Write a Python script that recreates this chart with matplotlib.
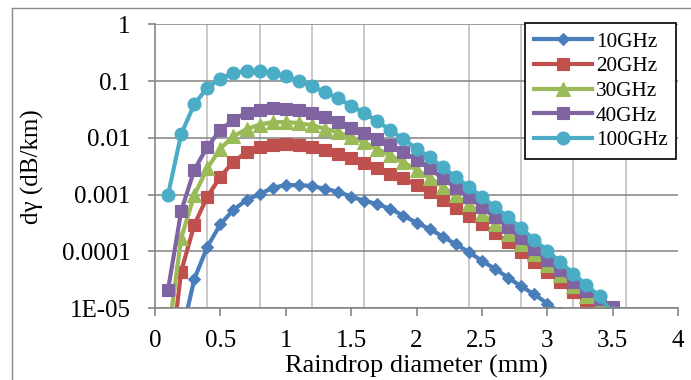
#!/usr/bin/env python
# coding=utf-8
import matplotlib
matplotlib.use('Agg')
import matplotlib.pyplot as plt
from matplotlib.lines import Line2D
from matplotlib.ticker import FixedLocator, FixedFormatter, NullLocator

plt.rcParams['font.family'] = ['Liberation Serif', 'DejaVu Serif']

# raindrop diameter (mm)
diameter = [0.1, 0.2, 0.3, 0.4, 0.5, 0.6, 0.7, 0.8, 0.9, 1.0,
            1.1, 1.2, 1.3, 1.4, 1.5, 1.6, 1.7, 1.8, 1.9, 2.0,
            2.1, 2.2, 2.3, 2.4, 2.5, 2.6, 2.7, 2.8, 2.9, 3.0,
            3.1, 3.2, 3.3, 3.4, 3.5]

# specific attenuation per diameter (dB/km)
g10 = [1e-7, 3e-6, 3.2e-5, 1.2e-4, 3.0e-4, 5.4e-4, 8.0e-4, 1.02e-3, 1.32e-3, 1.47e-3,
       1.47e-3, 1.42e-3, 1.26e-3, 1.12e-3, 9.2e-4, 7.8e-4, 6.8e-4, 5.6e-4, 4.25e-4, 3.2e-4,
       2.48e-4, 1.82e-4, 1.34e-4, 9.7e-5, 6.8e-5, 4.9e-5, 3.45e-5, 2.4e-5, 1.75e-5, 1.2e-5,
       8.2e-6, 5.5e-6, 3.6e-6, 2.4e-6, 1.5e-6]
g20 = [5e-7, 4.4e-5, 2.9e-4, 9.2e-4, 2.06e-3, 3.8e-3, 5.6e-3, 6.9e-3, 7.6e-3, 7.7e-3,
       7.5e-3, 7.0e-3, 6.1e-3, 5.3e-3, 4.4e-3, 3.6e-3, 2.9e-3, 2.35e-3, 1.93e-3, 1.47e-3,
       1.1e-3, 8.0e-4, 5.9e-4, 4.25e-4, 3.0e-4, 2.08e-4, 1.45e-4, 9.8e-5, 6.5e-5, 4.4e-5,
       2.9e-5, 1.9e-5, 1.3e-5, 9.5e-6, 6e-6]
g30 = [3e-6, 1.7e-4, 9.8e-4, 2.9e-3, 6.5e-3, 1.07e-2, 1.42e-2, 1.72e-2, 1.9e-2, 1.9e-2,
       1.83e-2, 1.67e-2, 1.46e-2, 1.25e-2, 1.04e-2, 8.3e-3, 6.4e-3, 4.9e-3, 3.7e-3, 2.75e-3,
       1.98e-3, 1.38e-3, 9.7e-4, 6.7e-4, 4.55e-4, 3.04e-4, 2.06e-4, 1.35e-4, 8.8e-5, 5.8e-5,
       3.8e-5, 2.45e-5, 1.64e-5, 1.2e-5, 7.5e-6]
g40 = [2.1e-5, 5.1e-4, 2.7e-3, 7.0e-3, 1.37e-2, 2.1e-2, 2.75e-2, 3.15e-2, 3.35e-2, 3.3e-2,
       3.05e-2, 2.7e-2, 2.3e-2, 1.88e-2, 1.52e-2, 1.23e-2, 9.7e-3, 7.4e-3, 5.6e-3, 4.1e-3,
       2.9e-3, 1.93e-3, 1.33e-3, 9.0e-4, 6.0e-4, 3.95e-4, 2.64e-4, 1.7e-4, 1.09e-4, 7.1e-5,
       4.6e-5, 2.9e-5, 1.97e-5, 1.45e-5, 1.05e-5]
g100 = [1.0e-3, 1.16e-2, 3.9e-2, 7.7e-2, 1.11e-1, 1.39e-1, 1.53e-1, 1.5e-1, 1.39e-1, 1.22e-1,
        1.0e-1, 8.1e-2, 6.4e-2, 5.0e-2, 3.7e-2, 2.75e-2, 1.97e-2, 1.37e-2, 9.5e-3, 6.5e-3,
        4.55e-3, 3.05e-3, 2.05e-3, 1.37e-3, 9.2e-4, 6.0e-4, 4.0e-4, 2.55e-4, 1.6e-4, 1.02e-4,
        6.5e-5, 4.0e-5, 2.55e-5, 1.6e-5, 8e-6]

labels = ['10GHz', '20GHz', '30GHz', '40GHz', '100GHz']

x_ticks = [0, 0.5, 1, 1.5, 2, 2.5, 3, 3.5, 4]
x_tick_labels = ['0', '0.5', '1', '1.5', '2', '2.5', '3', '3.5', '4']
x_grid = [0.4, 0.8, 1.2, 1.6, 2.0, 2.4, 2.8, 3.2, 3.6]
y_ticks = [1e-5, 1e-4, 1e-3, 1e-2, 1e-1, 1]
y_tick_labels = ['1E-05', '0.0001', '0.001', '0.01', '0.1', '1']

fig = plt.figure(figsize=(6.91, 3.80), dpi=100)
ax = fig.add_axes([155/691, 1-308/380, 523/691, 283.5/380])

styles = [('#4A7EBB', 'D', 6.2),
          ('#C0504D', 's', 8.3),
          ('#9BBB59', '^', 9.5),
          ('#8064A2', 's', 8.3),
          ('#4BACC6', 'o', 9.3)]
for ys, lab, (c, m, ms) in zip([g10, g20, g30, g40, g100], labels, styles):
    ax.plot(diameter, ys, color=c, lw=3.0, marker=m, ms=ms,
            mfc=c, mec=c, mew=0.8, label=lab)

ax.set_yscale('log')
ax.set_xlim(0, 4)
ax.set_ylim(1e-5, 1)

ax.yaxis.set_major_locator(FixedLocator(y_ticks))
ax.yaxis.set_major_formatter(FixedFormatter(y_tick_labels))
ax.yaxis.set_minor_locator(NullLocator())
ax.xaxis.set_major_locator(FixedLocator(x_ticks))
ax.xaxis.set_major_formatter(FixedFormatter(x_tick_labels))
ax.xaxis.set_minor_locator(FixedLocator(x_grid))

ax.grid(True, which='major', axis='y', color='#8c8c8c', lw=1.2)
ax.grid(True, which='minor', axis='x', color='#c0c0c0', lw=1.2)
ax.set_axisbelow(True)

ax.spines['right'].set_color('none')
ax.spines['top'].set_color('none')
ax.spines['left'].set_color('#868686')
ax.spines['bottom'].set_color('#868686')
ax.spines['left'].set_linewidth(1.2)
ax.spines['bottom'].set_linewidth(1.2)
ax.tick_params(axis='y', which='major', length=5, width=1.2, color='#868686',
               pad=12.5, labelsize=18)
ax.tick_params(axis='x', which='major', length=5.5, width=1.2, color='#868686',
               pad=10, labelsize=18)
ax.tick_params(axis='x', which='minor', length=0)

ax.set_xlabel('Raindrop diameter (mm)', fontsize=19)
ax.set_ylabel('dγ (dB/km)', fontsize=18)
ax.xaxis.set_label_coords(0.5, -0.165)
ax.yaxis.set_label_coords(-0.212, 0.5)

leg = ax.legend(loc='upper right', bbox_to_anchor=(0.997, 1.005), fontsize=15.3,
                frameon=True, fancybox=False, framealpha=1, edgecolor='black',
                labelspacing=0.22, handlelength=2.7, handletextpad=0.2,
                borderpad=0.42, borderaxespad=0)
leg.get_frame().set_linewidth(1.2)

# outer chart border (only left and top are inside the picture)
fig.add_artist(Line2D([12.3/691, 12.3/691], [0, 1-8.3/380],
                      transform=fig.transFigure, color='#898989', lw=1))
fig.add_artist(Line2D([12.3/691, 1], [1-8.3/380, 1-8.3/380],
                      transform=fig.transFigure, color='#898989', lw=1))

fig.savefig('out.png', dpi=100)
